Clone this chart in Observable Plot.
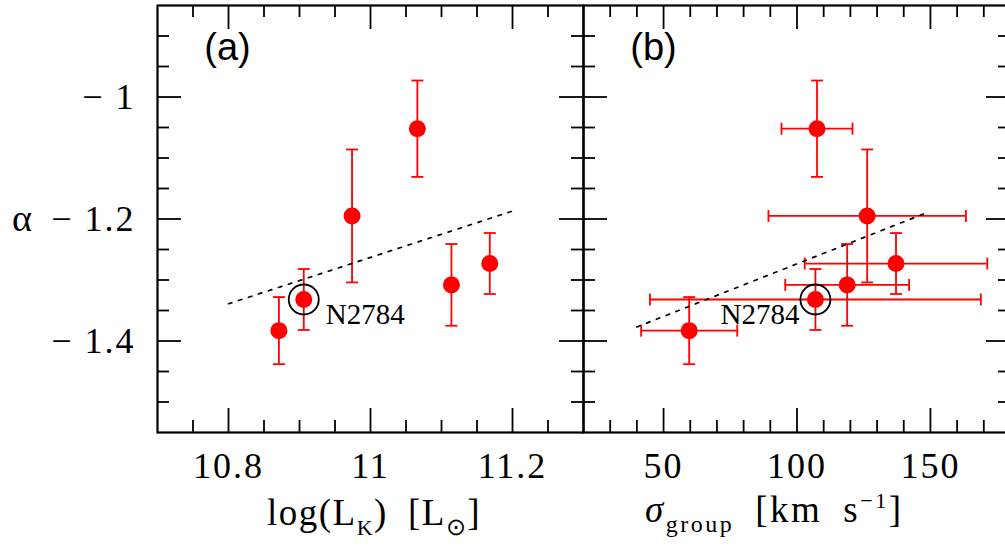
<!DOCTYPE html>
<html><head><meta charset="utf-8">
<script src="https://cdn.jsdelivr.net/npm/d3@7"></script>
<script src="https://cdn.jsdelivr.net/npm/@observablehq/plot@0.6"></script>
<style>
html,body{margin:0;padding:0;background:#fff;}
#chart{position:relative;width:1005px;height:548px;overflow:hidden;background:#fff;}
#chart svg{position:absolute;top:0;font-family:"Liberation Serif",serif;}
#chart g[aria-label$="tick label"] text{letter-spacing:2px;font-family:"Liberation Serif",serif;}
#chart text.title{letter-spacing:1.5px;}
#chart text.titleB{letter-spacing:2.5px;}
</style></head><body><div id="chart"></div>
<script>
// ---- data ----
const galaxies = ["", "N2784", "", "", "", ""];
const logLK    = [10.871, 10.906, 10.974, 11.066, 11.114, 11.168];
const alpha    = [-1.383, -1.332, -1.195, -1.052, -1.308, -1.273];
const alphaErr = [0.055, 0.050, 0.109, 0.079, 0.067, 0.050];
const sigma    = [59.6, 106.9, 126.3, 107.5, 118.8, 137.1];
const sigmaErr = [18.0, 62.0, 37.0, 13.3, 23.2, 34.2];
const fitA_x = [10.8, 11.2];
const fitA_y = [-1.339, -1.187];
const fitB_x = [40, 149];
const fitB_y = [-1.377, -1.189];
// ticks
const yMajor  = [-1.4, -1.2, -1.0];
const yMinor  = [-1.5, -1.45, -1.35, -1.3, -1.25, -1.15, -1.1, -1.05, -0.95, -0.9];
const xMajorA = [10.8, 11.0, 11.2];
const xMinorA = [10.75, 10.85, 10.9, 10.95, 11.05, 11.1, 11.15, 11.25];
const xMajorB = [50, 100, 150];
const xMinorB = [30, 40, 60, 70, 80, 90, 110, 120, 130, 140, 160, 170];
const yDomain = [-1.55, -0.85];
const xDomainA = [10.7, 11.3];
const xDomainB = [20, 180];

// ---- build rows ----
const rows = galaxies.map((g, i) => ({name: g, lk: logLK[i], a: alpha[i], ea: alphaErr[i], s: sigma[i], es: sigmaErr[i]}));
const fitA = fitA_x.map((x, i) => ({x, y: fitA_y[i]}));
const fitB = fitB_x.map((x, i) => ({x, y: fitB_y[i]}));

const hcap = {draw(ctx, size) { const w = Math.sqrt(size / Math.PI); ctx.moveTo(-w, 0); ctx.lineTo(w, 0); }};
const vcap = {draw(ctx, size) { const w = Math.sqrt(size / Math.PI); ctx.moveTo(0, -w); ctx.lineTo(0, w); }};

const H = 548, MT = 5, MB = 116, innerH = H - MT - MB;
const RED = "#ff0000";
const FONT = "Liberation Serif";

function frameTicks(xMaj, xMin, innerW) {
  const M = 24, m = 12, sw = 1.8;
  return [
    Plot.tickX(xMaj, {x: d => d, insetTop: innerH - M, strokeWidth: sw}),
    Plot.tickX(xMaj, {x: d => d, insetBottom: innerH - M, strokeWidth: sw}),
    Plot.tickX(xMin, {x: d => d, insetTop: innerH - m, strokeWidth: sw}),
    Plot.tickX(xMin, {x: d => d, insetBottom: innerH - m, strokeWidth: sw}),
    Plot.tickY(yMajor, {y: d => d, insetRight: innerW - M, strokeWidth: sw}),
    Plot.tickY(yMajor, {y: d => d, insetLeft: innerW - M, strokeWidth: sw}),
    Plot.tickY(yMinor, {y: d => d, insetRight: innerW - m, strokeWidth: sw}),
    Plot.tickY(yMinor, {y: d => d, insetLeft: innerW - m, strokeWidth: sw}),
    Plot.frame({strokeWidth: 2.2})
  ];
}

const fmtY = d => (d < 0 ? "\u2212 " : "") + Math.abs(d);

// ---- panel (a) ----
const WA = 585, MLA = 157, MRA = 2, innerWA = WA - MLA - MRA;
const plotA = Plot.plot({
  width: WA, height: H, marginLeft: MLA, marginRight: MRA, marginTop: MT, marginBottom: MB,
  style: {fontFamily: FONT, background: "transparent", overflow: "visible"},
  x: {domain: xDomainA},
  y: {domain: yDomain},
  marks: [
    ...frameTicks(xMajorA, xMinorA, innerWA),
    Plot.axisX(xMajorA, {anchor: "bottom", tickSize: 0, tickPadding: 20, fontSize: 36, fontFamily: FONT, label: null, tickFormat: d => String(d)}),
    Plot.axisY(yMajor, {anchor: "left", tickSize: 0, tickPadding: 22, fontSize: 36, fontFamily: FONT, label: null, tickFormat: fmtY}),
    Plot.ruleX(rows, {x: "lk", y1: d => d.a - d.ea, y2: d => d.a + d.ea, stroke: RED, strokeWidth: 1.8}),
    Plot.dot(rows, {x: "lk", y: d => d.a + d.ea, symbol: hcap, r: 6, stroke: RED, strokeWidth: 1.8, fill: "none"}),
    Plot.dot(rows, {x: "lk", y: d => d.a - d.ea, symbol: hcap, r: 6, stroke: RED, strokeWidth: 1.8, fill: "none"}),
    Plot.line(fitA, {x: "x", y: "y", stroke: "black", strokeWidth: 1.7, strokeDasharray: "3.5,7"}),
    Plot.dot(rows, {x: "lk", y: "a", r: 8.5, fill: RED}),
    Plot.dot(rows.filter(d => d.name), {x: "lk", y: "a", r: 15, stroke: "black", strokeWidth: 1.8, fill: "none"}),
    Plot.text(rows.filter(d => d.name), {x: "lk", y: "a", text: "name", dx: 22, dy: 15, textAnchor: "start", fontSize: 29, fontFamily: FONT}),
    Plot.text(["(a)"], {frameAnchor: "top-left", text: d => d, dx: 70, dy: 42, lineAnchor: "middle", textAnchor: "middle", fontSize: 38, fontFamily: "Liberation Sans"})
  ]
});
plotA.style.left = "0px";

// ---- panel (b) ----
const WB = 431, MLB = 2, MRB = 2, innerWB = WB - MLB - MRB;
const plotB = Plot.plot({
  width: WB, height: H, marginLeft: MLB, marginRight: MRB, marginTop: MT, marginBottom: MB,
  style: {fontFamily: FONT, background: "transparent", overflow: "visible"},
  x: {domain: xDomainB},
  y: {domain: yDomain, axis: null},
  marks: [
    ...frameTicks(xMajorB, xMinorB, innerWB),
    Plot.axisX(xMajorB, {anchor: "bottom", tickSize: 0, tickPadding: 20, fontSize: 36, fontFamily: FONT, label: null, tickFormat: d => String(d)}),
    Plot.ruleX(rows, {x: "s", y1: d => d.a - d.ea, y2: d => d.a + d.ea, stroke: RED, strokeWidth: 1.8}),
    Plot.dot(rows, {x: "s", y: d => d.a + d.ea, symbol: hcap, r: 6, stroke: RED, strokeWidth: 1.8, fill: "none"}),
    Plot.dot(rows, {x: "s", y: d => d.a - d.ea, symbol: hcap, r: 6, stroke: RED, strokeWidth: 1.8, fill: "none"}),
    Plot.ruleY(rows, {y: "a", x1: d => d.s - d.es, x2: d => d.s + d.es, stroke: RED, strokeWidth: 1.8}),
    Plot.dot(rows, {x: d => d.s - d.es, y: "a", symbol: vcap, r: 6, stroke: RED, strokeWidth: 1.8, fill: "none"}),
    Plot.dot(rows, {x: d => d.s + d.es, y: "a", symbol: vcap, r: 6, stroke: RED, strokeWidth: 1.8, fill: "none"}),
    Plot.line(fitB, {x: "x", y: "y", stroke: "black", strokeWidth: 1.7, strokeDasharray: "3.5,7"}),
    Plot.dot(rows, {x: "s", y: "a", r: 8.5, fill: RED}),
    Plot.dot(rows.filter(d => d.name), {x: "s", y: "a", r: 15, stroke: "black", strokeWidth: 1.8, fill: "none"}),
    Plot.text(rows.filter(d => d.name), {x: "s", y: "a", text: "name", dx: -16, dy: 15, textAnchor: "end", fontSize: 29, fontFamily: FONT}),
    Plot.text(["(b)"], {frameAnchor: "top-left", text: d => d, dx: 70, dy: 42, lineAnchor: "middle", textAnchor: "middle", fontSize: 38, fontFamily: "Liberation Sans"})
  ]
});
plotB.style.left = "581px";

const chart = document.getElementById("chart");
chart.appendChild(plotA);
chart.appendChild(plotB);

// ---- axis titles with sub/superscripts ----
const sA = d3.select(plotA);
const tA = sA.append("text").attr("class", "title").attr("x", 267).attr("y", 525)
  .attr("text-anchor", "start").attr("font-family", FONT).attr("font-size", 37).attr("fill", "black");
tA.append("tspan").text("log(L");
tA.append("tspan").attr("font-size", 22).attr("dy", 10).text("K");
tA.append("tspan").attr("dy", -10).text(")\u2002[L");
tA.append("tspan").attr("font-size", 24).attr("dy", 10).text("\u2299");
tA.append("tspan").attr("dy", -10).text("]");

const yScale = plotA.scale("y");
sA.append("text").attr("x", 22).attr("y", yScale.apply(-1.2)).attr("dy", "0.32em")
  .attr("text-anchor", "middle").attr("font-family", FONT).attr("font-size", 38).text("\u03b1");

const sB = d3.select(plotB);
const tB = sB.append("text").attr("class", "titleB").attr("x", 645 - 581).attr("y", 522)
  .attr("text-anchor", "start").attr("font-family", FONT).attr("font-size", 37).attr("fill", "black");
tB.append("tspan").attr("font-style", "italic").text("\u03c3");
tB.append("tspan").attr("font-size", 24).attr("dy", 10).text("group");
tB.append("tspan").attr("dy", -10).text("\u2002[km\u2002s");
tB.append("tspan").attr("font-size", 22).attr("dy", -14).text("\u22121");
tB.append("tspan").attr("dy", 14).text("]");
</script></body></html>
